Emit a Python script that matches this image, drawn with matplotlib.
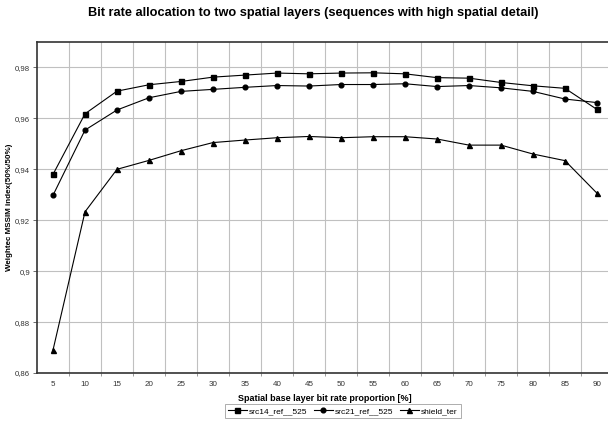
import numpy as np
import matplotlib
matplotlib.use("Agg")
import matplotlib.pyplot as plt

plt.rcParams['font.family'] = ['Liberation Sans', 'DejaVu Sans']

# base layer share [%]
proportion = [5, 10, 15, 20, 25, 30, 35, 40, 45, 50, 55, 60, 65, 70, 75, 80, 85, 90]

src14_ref_525 = [0.9380, 0.9618, 0.9707, 0.9732, 0.9745, 0.9762, 0.9770, 0.9778, 0.9775,
                 0.9778, 0.9779, 0.9775, 0.9760, 0.9758, 0.9741, 0.9728, 0.9718, 0.9635]
src21_ref_525 = [0.9298, 0.9554, 0.9633, 0.9681, 0.9706, 0.9714, 0.9722, 0.9729, 0.9727,
                 0.9733, 0.9733, 0.9736, 0.9725, 0.9729, 0.9720, 0.9706, 0.9676, 0.9662]
shield_ter = [0.8690, 0.9233, 0.9400, 0.9435, 0.9473, 0.9505, 0.9515, 0.9524, 0.9529,
              0.9524, 0.9528, 0.9528, 0.9519, 0.9495, 0.9495, 0.9460, 0.9434, 0.9306]

ytick_vals = [0.86, 0.88, 0.90, 0.92, 0.94, 0.96, 0.98]
ytick_labels = ["0,86", "0,88", "0,9", "0,92", "0,94", "0,96", "0,98"]

fig = plt.figure(figsize=(6.08, 4.24), dpi=100)
# plot area runs past the right border of the image (cropped like the original)
ax = fig.add_axes([37/608, 1 - 373/424, 576/608, 331/424])

x = np.arange(len(proportion))
ax.plot(x, src14_ref_525, color='black', lw=0.8, marker='s', ms=3.6, label='src14_ref__525')
ax.plot(x, src21_ref_525, color='black', lw=0.8, marker='o', ms=3.4, label='src21_ref__525')
ax.plot(x, shield_ter, color='black', lw=0.8, marker='^', ms=3.6, label='shield_ter')

ax.set_xlim(-0.5, len(proportion) - 0.5)
ax.set_ylim(0.86, 0.99)

ax.set_xticks(x)
ax.set_xticklabels([str(p) for p in proportion], fontsize=5.8, color='#333333')
ax.set_xticks(x[:-1] + 0.5, minor=True)
ax.tick_params(axis='x', which='major', length=0, pad=6)
ax.tick_params(axis='x', which='minor', length=2, width=0.6, color='#888888')

ax.set_yticks(ytick_vals)
ax.set_yticklabels(ytick_labels, fontsize=5.6, color='#333333')
ax.tick_params(axis='y', length=3, width=0.6, color='#555555', pad=2)

ax.grid(True, which='minor', axis='x', color='#c0c0c0', lw=0.8)
ax.grid(True, which='major', axis='y', color='#c0c0c0', lw=0.8)
ax.set_axisbelow(True)

for s in ['left', 'bottom', 'top', 'right']:
    ax.spines[s].set_color('#333333')
    ax.spines[s].set_linewidth(1.2)

ax.set_xlabel('Spatial base layer bit rate proportion [%]', fontsize=6.5,
              fontweight='bold', labelpad=4)
ax.set_ylabel('Weightec MSSIM index(50%/50%)', fontsize=5.8, fontweight='bold')
ax.yaxis.set_label_coords(-24/576, 0.5)

fig.text(313/608, 1 - 13/424, 'Bit rate allocation to two spatial layers (sequences with high spatial detail)',
         ha='center', va='center', fontsize=9.2, fontweight='bold')

leg = fig.legend(loc='center', bbox_to_anchor=(343/608, 1 - 411/424), ncol=3, fontsize=6,
                 frameon=True, fancybox=False, edgecolor='#888888', handlelength=2.2,
                 columnspacing=0.8, handletextpad=0.3, borderpad=0.35)
leg.get_frame().set_linewidth(0.6)

fig.savefig('out.png', dpi=100)
